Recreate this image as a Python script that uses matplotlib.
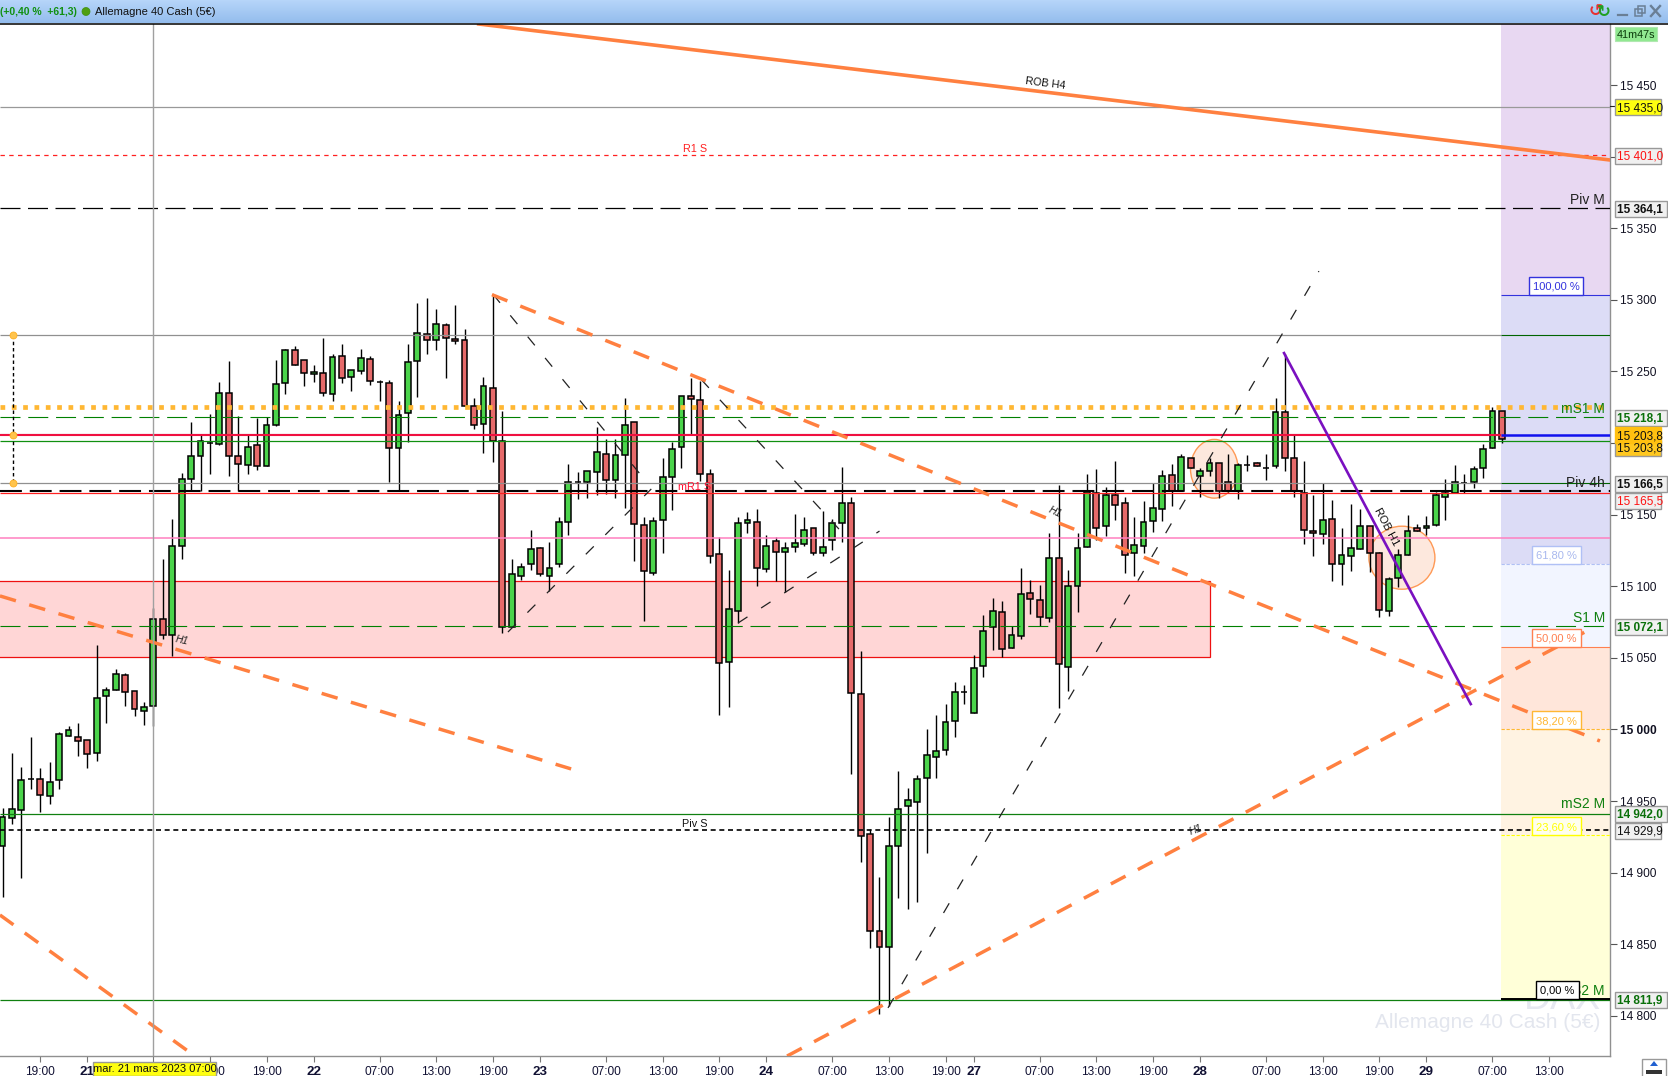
import numpy as np
import matplotlib
matplotlib.use("Agg")
import matplotlib.pyplot as plt
from matplotlib.patches import Rectangle, Ellipse, Circle, Polygon

plt.rcParams['font.family'] = ['Liberation Sans', 'DejaVu Sans']

# hourly candles: open, high, low, close
opens = [14918.9,14938.3,14943.4,14965.5,14965.5,14953.6,14965.0,14995.7,14994.8,14992.8,14983.7,15023.5,15027.8,15038.0,15026.9,15013.0,15016.4,15076.9,15065.9,15127.8,
15175.0,15191.2,15200.0,15199.4,15235.2,15191.2,15184.9,15198.3,15184.1,15212.8,15242.1,15265.1,15258.0,15248.3,15249.2,15234.4,15260.8,15246.0,15250.3,15258.8,
15242.6,15242.1,15196.6,15221.0,15257.4,15276.2,15271.9,15282.4,15272.8,15271.9,15225.9,15213.4,15238.7,15201.7,15071.5,15106.8,15115.3,15126.4,15106.8,15115.3,
15144.8,15172.5,15172.5,15179.8,15192.4,15174.0,15191.5,15214.4,15143.0,15109.3,15146.0,15176.2,15197.2,15233.1,15229.8,15178.3,15122.2,15047.2,15083.0,15144.2,
15145.1,15111.7,15131.3,15124.0,15127.6,15129.8,15140.3,15123.4,15132.2,15144.2,15158.4,15024.9,14927.0,14858.9,14847.7,14918.5,14946.3,14949.0,14965.8,14980.9,
14985.7,15005.9,15025.8,15011.6,15044.2,15071.3,15082.0,15056.9,15065.0,15095.0,15090.1,15078.1,15119.9,15043.8,15099.8,15127.5,15165.4,15142.1,15163.5,15158.0,
15123.4,15128.2,15145.5,15153.9,15177.4,15166.5,15189.2,15176.7,15180.2,15185.7,15173.0,15166.5,15184.8,15185.7,15182.5,15183.6,15221.7,15189.2,15165.4,15138.4,
15136.5,15146.9,15115.8,15121.3,15126.2,15142.1,15123.4,15082.5,15105.4,15122.0,15140.5,15140.7,15142.5,15162.2,15165.4,15171.9,15172.5,15182.2,15196.5,15222.4]
highs = [14945.4,14983.7,14973.8,14994.5,14972.9,14977.5,14997.9,15002.5,15004.2,14992.8,15059.0,15029.8,15042.0,15039.7,15026.9,15019.3,15084.6,15118.7,15147.1,15179.0,
15214.5,15206.0,15220.5,15242.4,15257.1,15219.0,15206.5,15217.6,15218.5,15258.0,15265.9,15267.4,15258.0,15254.3,15273.0,15262.2,15268.8,15251.2,15265.7,15261.1,
15244.3,15244.3,15229.3,15268.8,15297.8,15301.5,15293.8,15283.6,15296.4,15279.3,15231.6,15245.8,15303.5,15222.5,15118.7,15116.4,15139.2,15127.2,15130.7,15148.0,
15185.5,15179.5,15180.4,15211.1,15203.0,15203.0,15231.6,15214.4,15148.1,15148.1,15189.7,15200.9,15233.1,15245.1,15243.6,15181.9,15134.3,15111.1,15148.1,15151.7,
15154.2,15136.1,15134.3,15130.7,15150.2,15148.1,15140.3,15152.3,15147.2,15183.4,15162.3,15054.7,14930.3,14897.2,14938.7,14971.0,14958.9,14968.0,15000.2,15010.1,
15017.7,15033.3,15031.2,15052.3,15080.0,15091.5,15089.4,15071.9,15112.6,15104.4,15101.1,15137.2,15170.7,15111.2,15137.2,15178.3,15181.8,15169.5,15187.3,15162.6,
15148.3,15159.6,15172.3,15181.1,15185.2,15192.2,15189.2,15182.2,15189.2,15185.7,15192.2,15185.7,15191.5,15186.9,15192.6,15231.4,15262.0,15206.5,15187.3,15163.8,
15171.9,15160.3,15140.7,15157.3,15153.9,15142.1,15124.1,15106.1,15125.7,15149.9,15143.5,15149.2,15166.1,15174.9,15184.5,15178.3,15183.9,15199.5,15225.4,15222.4]
lows = [14882.8,14934.0,14896.2,14958.7,14942.5,14948.2,14958.7,14995.7,14981.5,14973.2,14978.0,15004.5,15027.8,15016.4,15009.3,15003.1,15002.2,15063.3,15051.1,15119.3,
15166.5,15166.5,15178.4,15198.9,15177.0,15166.5,15178.4,15181.2,15184.1,15211.7,15234.4,15254.6,15239.5,15242.4,15232.7,15229.3,15241.8,15236.1,15248.0,15240.4,
15229.3,15172.7,15166.5,15200.6,15231.8,15262.2,15264.8,15245.2,15268.8,15225.9,15209.7,15192.9,15186.6,15067.6,15071.5,15104.5,15111.0,15106.8,15096.6,15113.6,
15135.5,15160.8,15161.7,15163.8,15164.7,15161.4,15154.8,15117.7,15075.8,15107.8,15123.1,15153.0,15182.5,15206.6,15173.7,15116.5,15010.1,15015.6,15074.0,15137.3,
15099.9,15109.6,15103.5,15096.0,15123.7,15128.2,15121.6,15121.0,15125.2,15130.7,14968.6,14907.7,14847.4,14801.6,14806.8,14882.1,14874.5,14879.7,14913.7,14966.4,
14982.4,14994.5,15017.4,15011.6,15036.3,15055.3,15050.8,15056.9,15062.9,15080.6,15071.9,15074.9,15015.0,15027.0,15082.3,15127.5,15132.2,15134.9,15146.0,15109.1,
15107.2,15122.9,15137.7,15145.3,15155.7,15166.5,15182.2,15162.6,15176.9,15161.7,15165.6,15161.2,15180.6,15183.6,15174.2,15182.2,15180.6,15162.6,15129.2,15121.1,
15129.2,15103.8,15101.0,15110.7,15126.2,15110.0,15078.8,15079.5,15099.1,15122.0,15138.6,15136.1,15141.8,15146.5,15165.4,15165.4,15168.9,15175.8,15196.5,15200.0]
closes = [14938.8,14944.2,14964.4,14965.5,14954.5,14963.6,14997.1,14999.9,14992.0,14982.9,15022.1,15027.8,15038.9,15026.4,15013.9,15015.8,15076.9,15065.9,15127.8,15175.0,
15191.2,15201.1,15200.0,15235.2,15191.2,15185.5,15196.9,15184.1,15212.8,15241.5,15265.1,15254.6,15248.9,15249.7,15235.2,15260.3,15245.5,15251.2,15259.4,15243.5,
15242.6,15196.6,15219.9,15256.8,15277.0,15271.9,15283.3,15273.3,15271.3,15225.9,15212.8,15240.1,15201.7,15071.5,15108.5,15113.3,15125.8,15108.8,15112.5,15144.6,
15172.5,15172.5,15180.4,15193.6,15174.0,15191.5,15212.3,15143.6,15110.8,15145.7,15176.5,15195.7,15233.1,15230.4,15178.3,15121.3,15046.3,15084.0,15144.2,15146.3,
15112.9,15128.2,15124.0,15127.0,15130.4,15139.4,15123.1,15127.6,15144.2,15158.4,15025.5,14925.8,14858.9,14847.7,14918.5,14944.2,14950.5,14965.2,14981.8,14985.1,
15005.3,15026.1,15025.8,15043.0,15068.6,15082.4,15056.0,15065.7,15094.3,15090.8,15078.4,15119.9,15045.8,15099.8,15126.8,15165.6,15140.7,15163.5,15156.6,15122.0,
15128.9,15144.8,15154.5,15176.7,15166.5,15189.9,15182.2,15180.2,15186.2,15166.5,15166.5,15184.3,15184.8,15183.6,15182.5,15221.7,15189.2,15166.5,15139.3,15137.2,
15146.2,15115.8,15122.0,15126.8,15142.1,15123.4,15083.2,15104.7,15122.0,15138.6,15138.6,15142.1,15163.5,15164.9,15172.5,15171.9,15181.5,15196.1,15222.4,15203.0]

y_ticks = list(range(14800, 15451, 50))
time_ticks = [4,9,16,22,28,33,40,46,52,57,64,70,76,81,88,94,100,103,110,116,122,127,134,140,146,151,158,164]
time_labels = ['19:00','21','07:00','13:00','19:00','22','07:00','13:00','19:00','23','07:00','13:00','19:00',
               '24','07:00','13:00','19:00','27','07:00','13:00','19:00','28','07:00','13:00','19:00','29','07:00','13:00']

# trend lines as (candle index, price) pairs
rob_h4 = [(50.5,15492.6),(170.5,15397.6)]
orange_dashed = [[(51.9,15303.6),(169.4,14991.9)],[(-0.27,15093.2),(60.3,14972.4)],
                 [(-0.27,14870.4),(20.4,14771.9)],[(83.2,14771.9),(168.6,15070.8)]]
black_dashed = [[(52,15304),(67.6,15178.4)],[(74.1,15244.3),(88.7,15139.9)],[(53.6,15068),(68.8,15167.9)],
                [(78,15074.3),(93,15138.5)],[(93.9,14805.5),(139.6,15320)]]
purple_line = [(135.9,15262.8),(155.7,15017.7)]

fib_levels = [15303.5,15115.6,15057.7,15000.0,14926.0,14811.9]
fib_names = ['100,00 %','61,80 %','50,00 %','38,20 %','23,60 %','0,00 %']
fib_edge = ['#3333dd','#b0c0f5','#ff8050','#ffb733','#ffff00','#000000']
fib_fill = ['#dcdcf6','#f2f5ff','#ffe6da','#fff3e2','#ffffd8']
fib_top_fill = '#e8d8f2'

N = len(opens)
x = np.arange(N)
W, H = 1668, 1076
L_PX, R_PX, T_PX, B_PX = 0, 1610, 24, 1056
px_per_candle, px_per_pt = 9.43, 1.432
def Y(v): return 85 + (15450 - v) * px_per_pt
def X(i): return 2.5 + i * px_per_candle

fig = plt.figure(figsize=(W/100, H/100), dpi=100, facecolor='white')
ax = fig.add_axes([0, (H-B_PX)/H, R_PX/W, (B_PX-T_PX)/H])
ax.set_xlim((L_PX-2.5)/px_per_candle, (R_PX-2.5)/px_per_candle)
ax.set_ylim(15450-(B_PX-85)/px_per_pt, 15450-(T_PX-85)/px_per_pt)
xmin, xmax = ax.get_xlim(); ymin, ymax = ax.get_ylim()
FX = 158.9

# watermark (the fib fill hides its upper part)
ax.text(xmax-1.0, 14812, 'DAX', ha='right', va='center', fontsize=27, color='#e6e8f0', zorder=0.5)
ax.text(xmax-1.0, 14795.5, 'Allemagne 40 Cash (5€)', ha='right', va='center', fontsize=15, color='#e3e6ee', zorder=0.7)

# fib zones
ax.fill_between([FX, xmax], fib_levels[0], ymax, color=fib_top_fill, lw=0, zorder=0.6)
for k in range(5):
    ax.fill_between([FX, xmax], fib_levels[k+1], fib_levels[k], color=fib_fill[k], lw=0, zorder=0.6)

# supply zone
ax.add_patch(Rectangle((xmin-1, 15050.5), 129-xmin, 15103.7-15050.5, fc='#ffd6d6', ec='#ee1111', lw=0.9, zorder=1))

# circles
ax.add_patch(Ellipse((128.5,15182), 5.04, 41, fc='#fde8dd', ec='#ff9955', lw=1, zorder=1.5))
ax.add_patch(Ellipse((148.4,15119.9), 7, 44, fc='#fde8dd', ec='#ff9955', lw=1, zorder=1.5))

# candles
ax.vlines(x, lows, highs, color='black', lw=1, zorder=2)
colors = ['#4bd44b' if c >= o else '#e66a6a' for o, c in zip(opens, closes)]
bottoms = np.minimum(opens, closes); heights = np.abs(np.array(closes)-np.array(opens))
ax.bar(x, heights, bottom=bottoms, width=0.62, color=colors, edgecolor='black', linewidth=1.1, zorder=2.2)

# horizontal levels
def hl(v, x0, x1, color, lw, ls='-', z=3):
    ax.plot([x0, x1], [v, v], color=color, lw=lw, ls=ls, zorder=z, solid_capstyle='butt', dash_capstyle='butt')

hl(15434.5, xmin, xmax, '#999999', 0.9)
hl(15401, xmin, xmax, '#ff2020', 0.9, (0,(3.5,3.5)))
hl(15364.1, xmin, xmax, '#000000', 0.9, (0,(16,6)))
hl(15275.3, xmin, FX, '#909090', 0.9); hl(15275.3, FX, xmax, '#006400', 0.8)
hl(15225, xmin, xmax-0.5, '#ffb733', 3.4, (0,(1.0,1.4)))
hl(15218.1, xmin, xmax, '#008000', 0.8, (0,(18,7)))
hl(15206, xmin, FX, '#909090', 0.8)
hl(15205.3, xmin, FX, '#f01040', 1.5)
hl(15201.6, xmin, xmax, '#109010', 0.9)
hl(15172.4, xmin, FX, '#909090', 0.9); hl(15172.4, FX, xmax, '#006400', 0.8)
hl(15166.5, xmin, xmax, '#000000', 1.5, (0,(10.5,3.8)))
hl(15165, xmin, xmax, '#ff2020', 0.9)
hl(15133.5, xmin, xmax, '#ff80c0', 1.1)
hl(15072.1, xmin, xmax, '#008000', 0.8, (0,(18,7)))
hl(14941.2, xmin, xmax, '#108010', 0.9)
hl(14929.9, xmin, xmax, '#000000', 1.2, (0,(3,2.2)))
hl(14811.2, xmin, xmax, '#108010', 0.9)
hl(15205.3, FX, xmax, '#1010ee', 1.8, z=3.5)

# fib lines
for k, lev in enumerate(fib_levels):
    hl(lev, FX, xmax, fib_edge[k], 0.8, '-' if k in (0,2,5) else (0,(3,1.5)), z=3.2)
hl(fib_levels[5], FX, xmax, '#000000', 1.4, z=3.3)

# trend lines
for seg in orange_dashed:
    ax.plot(*zip(*seg), color='#ff8040', lw=2.5, ls=(0,(4.8,4)), zorder=3.4, dash_capstyle='butt')
for seg in black_dashed:
    ax.plot(*zip(*seg), color='#222222', lw=0.9, ls=(0,(9,13)), zorder=3.1, dash_capstyle='butt')
ax.plot(*zip(*rob_h4), color='#ff8040', lw=2.6, zorder=3.4)
ax.plot(*zip(*purple_line), color='#7a10c0', lw=1.9, zorder=3.5)

# crosshair
ax.axvline(16, color='#a0a0a0', lw=1, zorder=3.6)

# measuring handles
ax.plot([1.1,1.1],[15275.3,15172.4], color='black', lw=1, ls=(0,(2.5,2)), zorder=3.7)
ax.plot([1.1,1.1,1.1],[15275.3,15205.3,15172.4], ls='none', marker='o', ms=5, mfc='#ffc44d', mec='#ffb020', mew=0.6, zorder=3.8)

# axes
for s in ['left','top']:
    ax.spines[s].set_visible(False)
for s in ['right','bottom']:
    ax.spines[s].set_color('#909090'); ax.spines[s].set_linewidth(1)
ax.yaxis.tick_right()
ax.set_yticks(y_ticks)
ax.set_yticklabels([f'{v:,}'.replace(',', ' ') for v in y_ticks], fontsize=8.6, color='#111122')
for lab, v in zip(ax.get_yticklabels(), y_ticks):
    if v == 15000: lab.set_fontweight('bold')
ax.tick_params(axis='y', length=5, width=0.8, color='#555555', pad=2)
ax.set_xticks(time_ticks)
ax.set_xticklabels(time_labels, fontsize=8.6, color='#111133')
for lab, t in zip(ax.get_xticklabels(), time_labels):
    if ':' not in t:
        lab.set_fontweight('bold'); lab.set_fontsize(9.6)
ax.tick_params(axis='x', length=4, width=0.8, color='#777777', pad=3)

# pixel overlay
ov = fig.add_axes([0,0,1,1], zorder=10)
ov.set_xlim(0,W); ov.set_ylim(H,0); ov.axis('off'); ov.patch.set_alpha(0)

# in-chart text
def T(x_, y_, s, **kw):
    kw.setdefault('fontsize', 9); kw.setdefault('color', '#111111')
    kw.setdefault('ha','center'); kw.setdefault('va','center')
    return ov.text(x_, y_, s, **kw)

T(1045, 83, 'ROB H4', rotation=-7, fontsize=7.8)
T(695, 149, 'R1 S', color='#ff2020', fontsize=7.8)
T(695, 487, 'mR1 S', color='#ff1030', fontsize=7.8)
T(695, 824, 'Piv S', fontsize=7.8)
T(1386, 527, 'ROB H1', rotation=-62, fontsize=8)
T(182, 640, 'H1', rotation=-12, style='italic', fontsize=7.5, color='#222222')
T(1055, 512, 'H1', rotation=-25, style='italic', fontsize=7.5, color='#222222')
T(1196, 830, 'H1', rotation=20, style='italic', fontsize=7.5, color='#222222')
for lab_, v_, c_ in [('Piv M',15364.1,'#222222'),('mS1 M',15218.1,'#108010'),('Piv 4h',15166.5,'#222222'),
                     ('S1 M',15072.1,'#108010'),('mS2 M',14942,'#108010'),('S2 M',14811.9,'#108010')]:
    T(1605, Y(v_)-8, lab_, ha='right', fontsize=10, color=c_)

# fib labels
for k, lev in enumerate(fib_levels):
    x0, wd = (1529, 54) if k == 0 else ((1536, 43) if k == 5 else (1532, 49))
    ytop = Y(lev) - 18
    ov.add_patch(Rectangle((x0, ytop), wd, 18, fc='white' if k != 4 else '#ffffee', ec=fib_edge[k], lw=1, zorder=4))
    T(x0+wd/2, ytop+10, fib_names[k], color=fib_edge[k] if k != 1 else '#a8b8ee', fontsize=8, zorder=5)

# right side price labels
def price_box(yc, s, color='#111111', bold=False, bg='#f0f0f0', wide=None, ec='#999999'):
    wd = wide or (52 if bold else 46)
    ov.add_patch(Rectangle((1615.5, yc-8), wd, 16, fc=bg, ec=ec, lw=1, zorder=6))
    T(1617.5, yc+0.6, s, ha='left', color=color, fontsize=8.5, fontweight='bold' if bold else 'normal', zorder=7)

ov.plot([1610,1615],[Y(15435)]*2, color='#222222', lw=0.8)
price_box(Y(15435)+1, '15 435,0', bg='#ffff10')
price_box(Y(15401)+1, '15 401,0', color='#ff1010')
price_box(Y(15364.1)+1, '15 364,1', bold=True)
price_box(Y(15218.1)+1, '15 218,1', color='#0a700a', bold=True)
price_box(Y(15196.4), '15 203,8', bg='#ffc820')
price_box(Y(15205.3), '15 203,8', bg='#ffc010', ec='#ffc010')
price_box(Y(15166.5)-7, '15 166,5', bold=True)
price_box(Y(15166.5)+10, '15 165,5', color='#ff1010')
price_box(Y(15072.1)+1, '15 072,1', color='#0a700a', bold=True)
price_box(Y(14942)+1.5, '14 942,0', color='#0a700a', bold=True)
price_box(Y(14929.9)+1.5, '14 929,9')
price_box(Y(14811.9)+1.5, '14 811,9', color='#0a700a', bold=True)
ov.add_patch(Rectangle((1615, 27), 42, 14, fc='#90e890', ec='#b0e8b0', lw=0.8, zorder=6))
T(1636, 34.8, '41m47s', fontsize=7.8, color='#0a3a0a', zorder=7)

# date tooltip
ov.add_patch(Rectangle((93, 1062), 123, 14, fc='#ffff10', ec='#999999', lw=1, zorder=6))
T(154.5, 1069.5, 'mar. 21 mars 2023 07:00', fontsize=8.0, zorder=7)

# title bar
ov.imshow(np.linspace(0,1,24)[:,None,None]*np.array([[[-0.14,-0.10,-0.05]]])+np.array([[[0.72,0.84,0.98]]]),
          extent=[0,W,23.5,0], aspect='auto', zorder=1)
ov.set_xlim(0,W); ov.set_ylim(H,0)
ov.plot([0,W],[23.5,23.5], color='black', lw=1.1, zorder=2)
T(0, 12, '(+0,40 %  +61,3)', ha='left', color='#109010', fontweight='bold', fontsize=7.5, zorder=3)
ov.add_patch(Circle((86, 11.5), 4, fc='#4f9f10', ec='#3f8f10', lw=0.5, zorder=3))
T(95, 12, 'Allemagne 40 Cash (5€)', ha='left', fontsize=8.0, zorder=3)
T(1596, 11, '↺', color='#e83030', fontsize=12, fontweight='bold', zorder=3, family='DejaVu Sans')
T(1604, 12, '↻', color='#20a020', fontsize=12, fontweight='bold', zorder=3, family='DejaVu Sans')
ov.plot([1618,1627],[15,15], color='#6a7f95', lw=1.6, zorder=3)
ov.add_patch(Rectangle((1635,9),7,7, fc='none', ec='#6a7f95', lw=1.1, zorder=3))
ov.add_patch(Rectangle((1638,6),7,7, fc='none', ec='#6a7f95', lw=1.1, zorder=3))
ov.plot([1651,1660],[6,16], color='#6a7f95', lw=1.7, zorder=3)
ov.plot([1651,1660],[16,6], color='#6a7f95', lw=1.7, zorder=3)

# corner button
ov.add_patch(Rectangle((1642,1059), 24, 18, fc='white', ec='#999999', lw=1, zorder=3))
ov.add_patch(Polygon([(1654,1061),(1650,1066),(1658,1066)], fc='#2060d0', ec='none', zorder=4))
ov.add_patch(Rectangle((1646,1070), 16, 4, fc='#333333', ec='none', zorder=4))

ov.set_xlim(0,W); ov.set_ylim(H,0)
fig.savefig('out.png', dpi=100)
